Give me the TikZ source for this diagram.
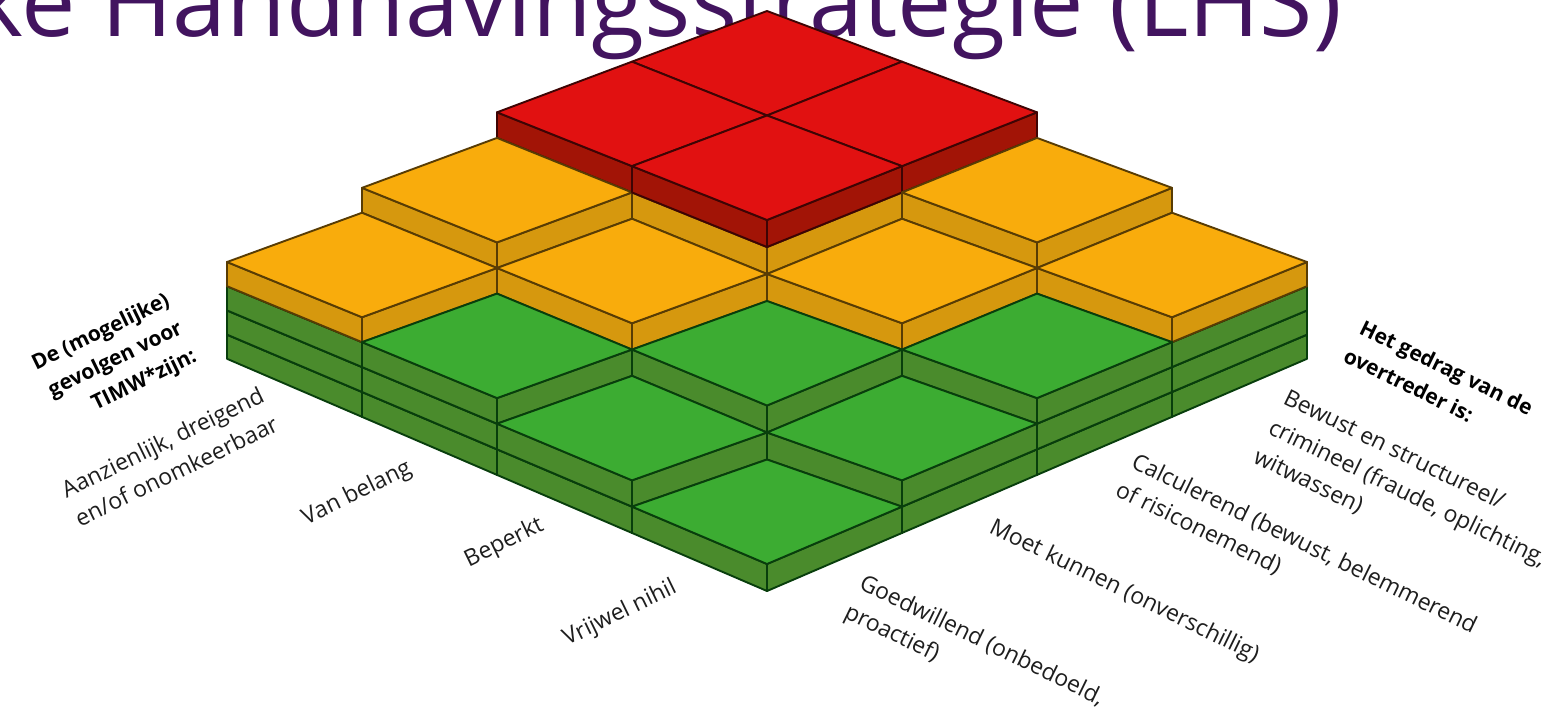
\documentclass[tikz,border=0pt]{standalone}
\usepackage{fontspec}
\setmainfont{Open Sans}
\definecolor{gtop}{RGB}{60,172,50}
\definecolor{gside}{RGB}{74,139,44}
\definecolor{gedge}{RGB}{8,62,12}
\definecolor{otop}{RGB}{249,172,12}
\definecolor{oside}{RGB}{214,152,14}
\definecolor{oedge}{RGB}{88,60,4}
\definecolor{rtop}{RGB}{225,17,17}
\definecolor{rside}{RGB}{162,20,6}
\definecolor{redge}{RGB}{62,4,4}
\definecolor{titlepurple}{RGB}{66,20,95}
\definecolor{labtext}{RGB}{30,30,30}
\makeatletter
% projected point of grid corner (a,b) at layer height z, in picture pixels
\tikzdeclarecoordinatesystem{iso}{%
  \tikzset{/isocs/.cd,#1}%
  \pgfmathsetmacro\iso@a{\isoA}%
  \pgfmathsetmacro\iso@b{\isoB}%
  \pgfmathsetmacro\iso@z{\isoZ}%
  \pgfmathsetmacro\iso@x{767+135*(\iso@b-\iso@a)}%
  \pgfmathsetmacro\iso@y{591-52.25*(\iso@a+\iso@b)-27*\iso@z-abs(\iso@b-\iso@a)*(5.8-0.7*\iso@z)}%
  \pgfpoint{\iso@x pt}{-\iso@y pt}%
}
\makeatother
\tikzset{
  /isocs/.cd, a/.store in=\isoA, b/.store in=\isoB, z/.store in=\isoZ, a=0, b=0, z=0,
  /tikz/.cd,
  face/.style={line width=1.9pt, line join=round},
  lab/.style={font=\fontsize{23}{28}\selectfont, text=labtext, inner sep=0pt},
  labb/.style={font=\fontsize{21}{26}\selectfont\bfseries, text=black, inner sep=0pt},
  rlab/.style={lab, rotate=-26, anchor=base west},
  rlabb/.style={labb, rotate=-26, anchor=base west},
  llab/.style={lab, rotate=26, anchor=base east},
  llabb/.style={labb, rotate=26, anchor=base east},
}
\newcommand\onebox[3]{%
  \ifnum#3<4\relax \def\ct{gtop}\def\cs{gside}\def\ce{gedge}%
  \else\ifnum#3<6\relax \def\ct{otop}\def\cs{oside}\def\ce{oedge}%
  \else \def\ct{rtop}\def\cs{rside}\def\ce{redge}\fi\fi
  \filldraw[face,fill=\cs,draw=\ce] (iso cs:a=#1,b=#2,z=#3-1) -- (iso cs:a=#1+1,b=#2,z=#3-1) -- (iso cs:a=#1+1,b=#2,z=#3) -- (iso cs:a=#1,b=#2,z=#3) -- cycle;
  \filldraw[face,fill=\cs,draw=\ce] (iso cs:a=#1,b=#2,z=#3-1) -- (iso cs:a=#1,b=#2+1,z=#3-1) -- (iso cs:a=#1,b=#2+1,z=#3) -- (iso cs:a=#1,b=#2,z=#3) -- cycle;
  \filldraw[face,fill=\ct,draw=\ce] (iso cs:a=#1,b=#2,z=#3) -- (iso cs:a=#1+1,b=#2,z=#3) -- (iso cs:a=#1+1,b=#2+1,z=#3) -- (iso cs:a=#1,b=#2+1,z=#3) -- cycle;
}
\begin{document}
\begin{tikzpicture}[x=1pt,y=-1pt]
\useasboundingbox (0,0) rectangle (1553,713);
\clip (0,0) rectangle (1553,713);
\fill[white] (0,0) rectangle (1553,713);
% title (cut off at the top)
\node[anchor=base east, inner sep=0pt, text=titlepurple, font=\fontsize{97}{104}\selectfont] (title) at (1342,36) {Landelijke Handhavingsstrategie (LHS)};
% stacked blocks, drawn back to front
\foreach \a/\b/\h in {3/3/6, 3/2/6, 2/3/6, 3/1/5, 2/2/6, 1/3/5, 3/0/4, 2/1/4, 1/2/4, 0/3/4, 2/0/3, 1/1/3, 0/2/3, 1/0/2, 0/1/2, 0/0/1}{
  \foreach \k in {1,...,\h}{\onebox{\a}{\b}{\k}}
}
% left labels
\node[llabb] (g1) at (171,305) {De (mogelijke)};
\node[llabb] (g2) at (184,333) {gevolgen voor};
\node[llabb] (g3) at (198,361) {TIMW*zijn:};
\node[llab] (a1) at (266,401) {Aanzienlijk, dreigend};
\node[llab] (a2) at (280,430) {en/of onomkeerbaar};
\node[llab] (vb) at (413,473) {Van belang};
\node[llab] (bp) at (545,530) {Beperkt};
\node[llab] (vn) at (678,592) {Vrijwel nihil};
% right labels
\node[rlabb] (h1) at (1358,333) {Het gedrag van de};
\node[rlabb] (h2) at (1342,361) {overtreder is:};
\node[rlab] (b1) at (1282,403) {Bewust en structureel/};
\node[rlab] (b2) at (1267,433) {crimineel (fraude, oplichting,};
\node[rlab] (b3) at (1252,462) {witwassen)};
\node[rlab] (c1) at (1130,467) {Calculerend (bewust, belemmerend};
\node[rlab] (c2) at (1114,495) {of risiconemend)};
\node[rlab] (m1) at (988,532) {Moet kunnen (onverschillig)};
\node[rlab] (w1) at (858,588) {Goedwillend (onbedoeld,};
\node[rlab] (w2) at (843,617) {proactief)};
\end{tikzpicture}
\end{document}
